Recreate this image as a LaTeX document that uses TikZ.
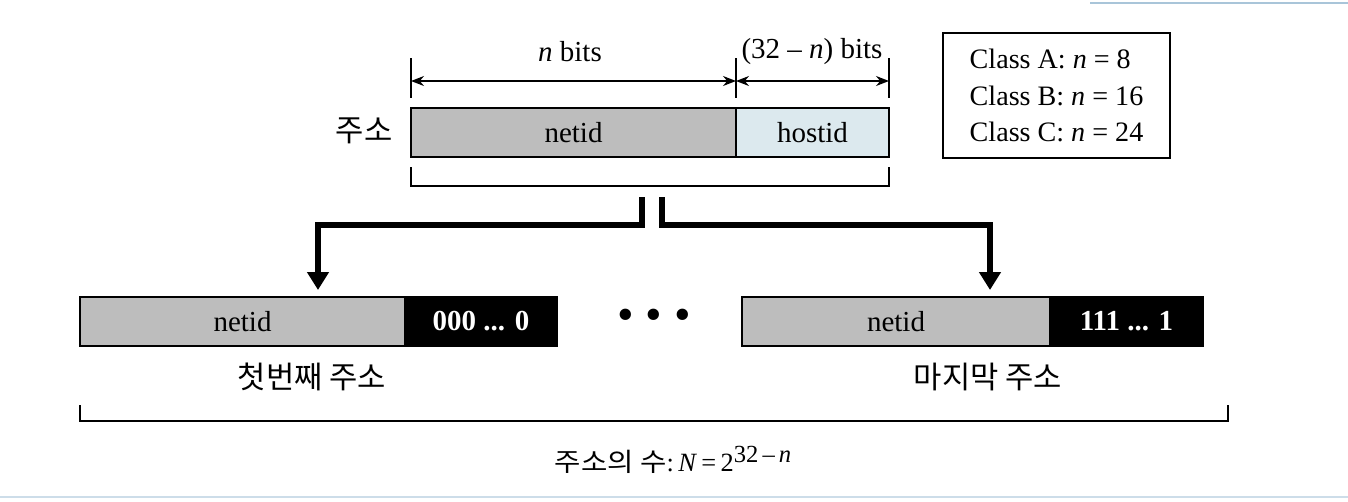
\documentclass[tikz,border=0pt]{standalone}
\usepackage{fontspec}
\setmainfont{Liberation Serif}
\newfontfamily\kr{Noto Sans CJK KR}
\usetikzlibrary{arrows.meta}
\definecolor{netgray}{HTML}{BDBDBD}
\definecolor{hostblue}{HTML}{DCE9EE}
\definecolor{scanblue}{HTML}{6F9FC0}
\tikzset{
  field/.style={draw=black, line width=0.7pt, minimum height=0.98cm, inner sep=0pt, font=\fontsize{16.5}{18}\selectfont},
  netf/.style={field, fill=netgray},
  hostf/.style={field, fill=hostblue},
  darkf/.style={field, fill=black, text=white, font=\fontsize{16.5}{18}\selectfont\bfseries},
  dim/.style={line width=0.8pt, {Stealth[length=2.6mm,width=2mm]}-{Stealth[length=2.6mm,width=2mm]}},
  tick/.style={line width=0.8pt},
  brk/.style={line width=0.9pt},
  flow/.style={line width=3.4pt, -{Triangle[length=3.6mm,width=4.2mm]}},
  lab/.style={font=\fontsize{16.5}{18}\selectfont, inner sep=1pt},
  krlab/.style={font=\kr\fontsize{17.5}{19}\selectfont, inner sep=1pt},
}
\begin{document}
\begin{tikzpicture}[x=0.02cm,y=-0.02cm]
\useasboundingbox (0,0) rectangle (1348,501);
% scan edge lines
\draw[scanblue!60, line width=1.2pt] (1090,3) -- (1348,3);
\draw[scanblue!35, line width=1.2pt] (0,497) -- (1348,497);

% top address
\node[netf, minimum width=6.5cm] (tnet) at (573.5,132.5) {netid};
\node[hostf, minimum width=3.06cm] (thost) at (812.5,132.5) {hostid};
\node[krlab] (addr) at (364,131) {주소};

% dimension ticks and arrows
\coordinate (t1a) at (411,58); \coordinate (t1b) at (411,98);
\coordinate (t2a) at (736,58); \coordinate (t2b) at (736,98);
\coordinate (t3a) at (889,58); \coordinate (t3b) at (889,98);
\draw[tick] (t1a) -- (t1b);
\draw[tick] (t2a) -- (t2b);
\draw[tick] (t3a) -- (t3b);
\coordinate (d1) at (411,81); \coordinate (d2) at (736,81); \coordinate (d3) at (889,81);
\draw[dim] (d1) -- (d2);
\draw[dim] (d2) -- (d3);
\node[lab] (nbits) at (570,52) {\textit{n} bits};
\node[lab] (hbits) at (812,52) {(32 – \textit{n}) bits};

% bracket under top address
\coordinate (b1) at (411,167); \coordinate (b2) at (411,186);
\coordinate (b3) at (889,186); \coordinate (b4) at (889,167);
\draw[brk] (b1) -- (b2) -- (b3) -- (b4);

% class box
\node[draw=black, line width=1.1pt, minimum width=4.54cm, minimum height=2.5cm, align=left,
      font=\fontsize{16}{21}\selectfont, inner xsep=3pt] (cls) at (1056.5,95.5)
  {Class A: \textit{n} = 8\\Class B: \textit{n} = 16\\Class C: \textit{n} = 24};

% bottom addresses
\node[netf, minimum width=6.5cm] (fnet) at (242.5,321.5) {netid};
\node[darkf, minimum width=3.04cm] (fhost) at (481,321.5) {000 ... 0};
\node[netf, minimum width=6.16cm] (lnet) at (896,321.5) {netid};
\node[darkf, minimum width=3.06cm] (lhost) at (1126.5,321.5) {111 ... 1};
\node[font=\fontsize{27}{27}\selectfont] (dots) at (654,320) {• • •};
\node[krlab] (first) at (312,377) {첫번째 주소};
\node[krlab] (last) at (988,377) {마지막 주소};

% flow arrows
\coordinate (sL) at (642,197); \coordinate (sR) at (662,197);
\coordinate (eL) at (318,290); \coordinate (eR) at (990,290);
\draw[flow] (sL) |- (500,225) -| (eL);
\draw[flow] (sR) |- (800,225) -| (eR);

% big bracket
\coordinate (B1) at (80,405); \coordinate (B2) at (80,421);
\coordinate (B3) at (1228,421); \coordinate (B4) at (1228,405);
\draw[brk] (B1) -- (B2) -- (B3) -- (B4);
\node[inner sep=1pt] (count) at (673,460)
  {\kr\fontsize{16.3}{18}\selectfont\scalebox{1}[0.9]{주소의 수}\rmfamily\fontsize{15}{17}\selectfont:\,\textit{N}\,=\,2\raisebox{0.75ex}{\fontsize{14}{15}\selectfont 32\,–\,\textit{n}}};
\end{tikzpicture}
\end{document}
